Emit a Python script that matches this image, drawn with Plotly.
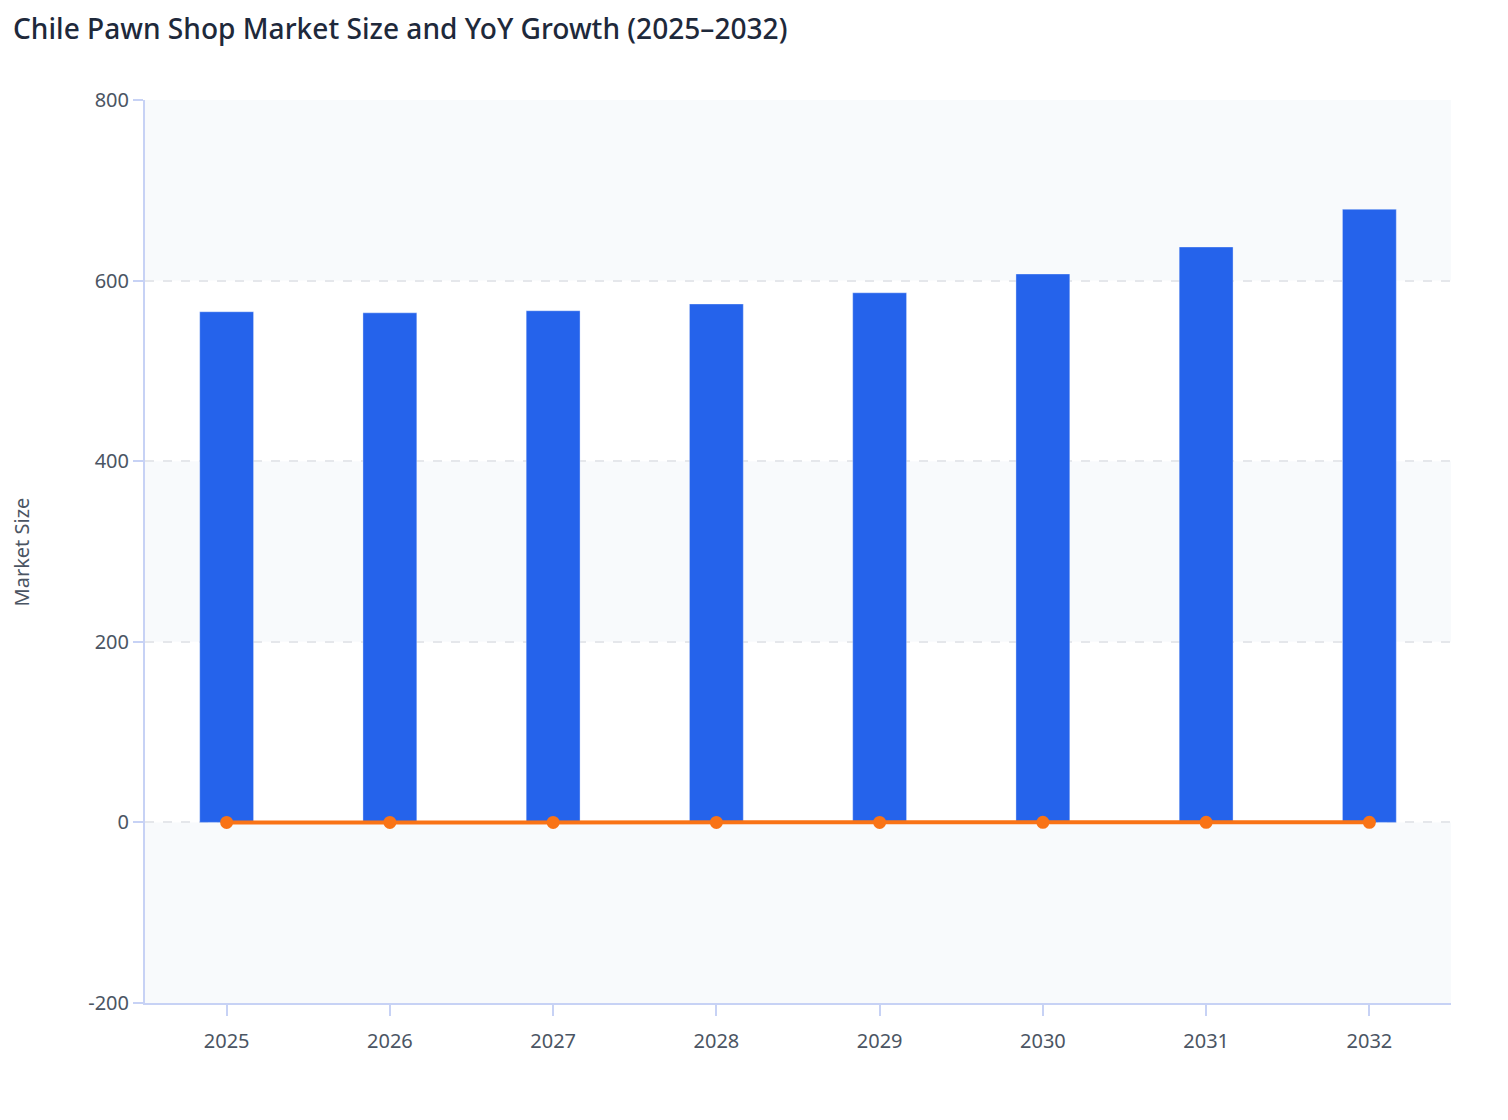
import plotly.graph_objects as go

# data
years = ["2025", "2026", "2027", "2028", "2029", "2030", "2031", "2032"]
market_size = [565.5, 564.3, 566.6, 574.1, 586.5, 607.3, 637.2, 679.0]
yoy_growth = [0.0, -0.002, 0.004, 0.013, 0.022, 0.035, 0.049, 0.066]

y_tick_vals = [-200, 0, 200, 400, 600, 800]
y_tick_text = ["-200", "0", "200", "400", "600", "800"]

band_ranges = [(-200, 0), (200, 400), (600, 800)]  # shaded horizontal bands

axis_col = "#c7d2f5"
grid_col = "#e5e7eb"
txt_col = "#4b5563"

fig = go.Figure()

fig.add_trace(go.Bar(
    x=years, y=market_size, name="Market Size", width=0.33,
    marker=dict(color="#2563eb", line=dict(color="rgba(255,255,255,0.35)", width=1)),
))
fig.add_trace(go.Scatter(
    x=years, y=yoy_growth, name="YoY Growth", mode="lines+markers",
    line=dict(color="#f97316", width=4), marker=dict(color="#f97316", size=13),
))

for lo, hi in band_ranges:
    fig.add_shape(type="rect", xref="paper", yref="y", x0=0, x1=1, y0=lo, y1=hi,
                  fillcolor="#f8fafc", line_width=0, layer="below")

# title and y-axis title as annotations so they can sit close to the page edge
fig.add_annotation(text="Chile Pawn Shop Market Size and YoY Growth (2025–2032)",
                   xref="paper", yref="paper", x=-0.1026, y=1.0797,
                   xanchor="left", yanchor="middle", showarrow=False,
                   font=dict(size=28.1, color="#1e293b", weight=500))
fig.add_annotation(text="Market Size", textangle=-90,
                   xref="paper", yref="paper", x=-0.0942, y=0.5,
                   xanchor="center", yanchor="middle", showarrow=False,
                   font=dict(size=20, color=txt_col))

fig.update_layout(
    width=1508, height=1120,
    margin=dict(l=137, r=65, t=92, b=125),
    paper_bgcolor="white", plot_bgcolor="white",
    font=dict(family="Noto Sans", size=20, color=txt_col),
    showlegend=False,
)

fig.update_xaxes(type="category", showline=True, linecolor=axis_col, linewidth=2,
                 ticks="outside", tickcolor=axis_col, ticklen=11, tickwidth=2,
                 ticklabelstandoff=8, automargin=False,
                 showgrid=False, tickfont=dict(size=20, color=txt_col))
fig.update_yaxes(range=[-200, 800], tickmode="array", tickvals=y_tick_vals, ticktext=y_tick_text,
                 showline=True, linecolor=axis_col, linewidth=2,
                 ticks="outside", tickcolor=axis_col, ticklen=10, tickwidth=2,
                 showgrid=True, gridcolor=grid_col, griddash="dash", gridwidth=1.5,
                 zeroline=False, tickfont=dict(size=20, color=txt_col), automargin=False)

fig.write_html("out.html")
